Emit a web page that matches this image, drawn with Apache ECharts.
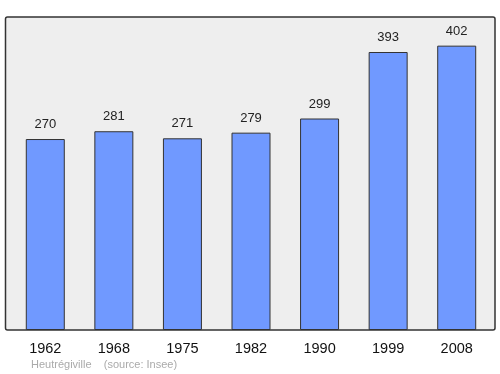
<!DOCTYPE html>
<html><head><meta charset="utf-8">
<script src="https://cdn.jsdelivr.net/npm/echarts@6/dist/echarts.min.js"></script>
<style>html,body{margin:0;padding:0;background:#fff}#c{width:500px;height:374px}</style>
</head><body><div id="c"></div>
<script>
const years = ['1962','1968','1975','1982','1990','1999','2008'];
const population = [270,281,271,279,299,393,402];
const footer = 'Heutrégiville    (source: Insee)';

const chart = echarts.init(document.getElementById('c'), null, {renderer:'canvas'});
chart.setOption({
  animation:false,
  graphic:[
    {type:'rect', z:-1, shape:{x:5.5,y:17,width:489.5,height:313,r:2}, style:{fill:'#eeeeee',stroke:'#333',lineWidth:1.5}},
    {type:'text', left:31, top:359, style:{text:footer, fill:'#aaaaaa', font:'11px "Liberation Sans", Arial, sans-serif'}}
  ],
  grid:{left:11,right:9,top:17,bottom:44},
  xAxis:{type:'category',data:years,
    axisLine:{show:false},axisTick:{show:false},
    axisLabel:{color:'#111',fontSize:14.5,margin:11,fontFamily:'"Liberation Sans", Arial, sans-serif'}},
  yAxis:{type:'value',min:0,max:442.5,show:false,splitLine:{show:false}},
  series:[{type:'bar',data:population,barWidth:39,
    itemStyle:{color:'#7099ff',borderColor:'#333',borderWidth:1},
    label:{show:true,position:'top',distance:8,color:'#222',fontSize:13,fontFamily:'"Liberation Sans", Arial, sans-serif'}}]
});
</script></body></html>
